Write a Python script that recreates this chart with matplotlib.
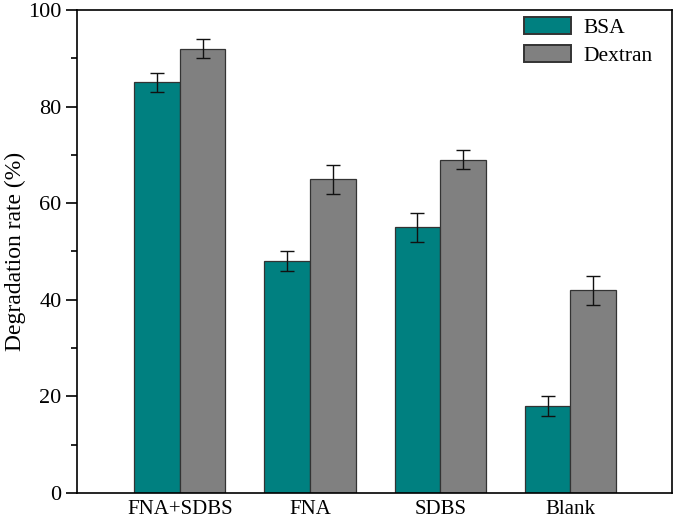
import numpy as np
import matplotlib.pyplot as plt
from matplotlib.ticker import MultipleLocator

plt.rcParams['font.family'] = ['Liberation Serif', 'DejaVu Serif']

groups = ['FNA+SDBS', 'FNA', 'SDBS', 'Blank']
bsa = [85, 48, 55, 18]
bsa_err = [2, 2, 3, 2]
dextran = [92, 65, 69, 42]
dextran_err = [2, 3, 2, 3]

x = np.arange(len(groups))
w = 0.35

fig = plt.figure(figsize=(6.75, 5.2), dpi=100)
ax = fig.add_axes([77/675, 27/520, 595/675, 483/520])

ekw = dict(elinewidth=1, capthick=1, ecolor='#111111')
ax.bar(x - w/2, bsa, w, color='#008080', edgecolor='#333333', linewidth=0.9,
       yerr=bsa_err, capsize=5, error_kw=ekw, label='BSA')
ax.bar(x + w/2, dextran, w, color='#808080', edgecolor='#333333', linewidth=0.9,
       yerr=dextran_err, capsize=5, error_kw=ekw, label='Dextran')

ax.set_xlim(-0.79, 3.78)
ax.set_ylim(0, 100)
ax.set_xticks(x)
ax.set_xticklabels(groups, fontsize=15)
ax.tick_params(axis='x', length=0, pad=5)
ax.yaxis.set_major_locator(MultipleLocator(20))
ax.yaxis.set_minor_locator(MultipleLocator(10))
ax.tick_params(axis='y', which='major', length=8, width=1.2, labelsize=16, direction='out', pad=3)
ax.tick_params(axis='y', which='minor', length=4, width=1.2, direction='out')
ax.set_ylabel('Degradation rate (%)', fontsize=17, labelpad=2)
for s in ax.spines.values():
    s.set_linewidth(1.2)

leg = ax.legend(loc='upper right', frameon=False, fontsize=15.5, handlelength=2.2,
                handleheight=0.85, handletextpad=0.6, labelspacing=0.3,
                borderpad=0, borderaxespad=0, bbox_to_anchor=(0.968, 0.985))
for p in leg.get_patches():
    p.set_linewidth(1.4)

fig.savefig('out.png', dpi=100)
